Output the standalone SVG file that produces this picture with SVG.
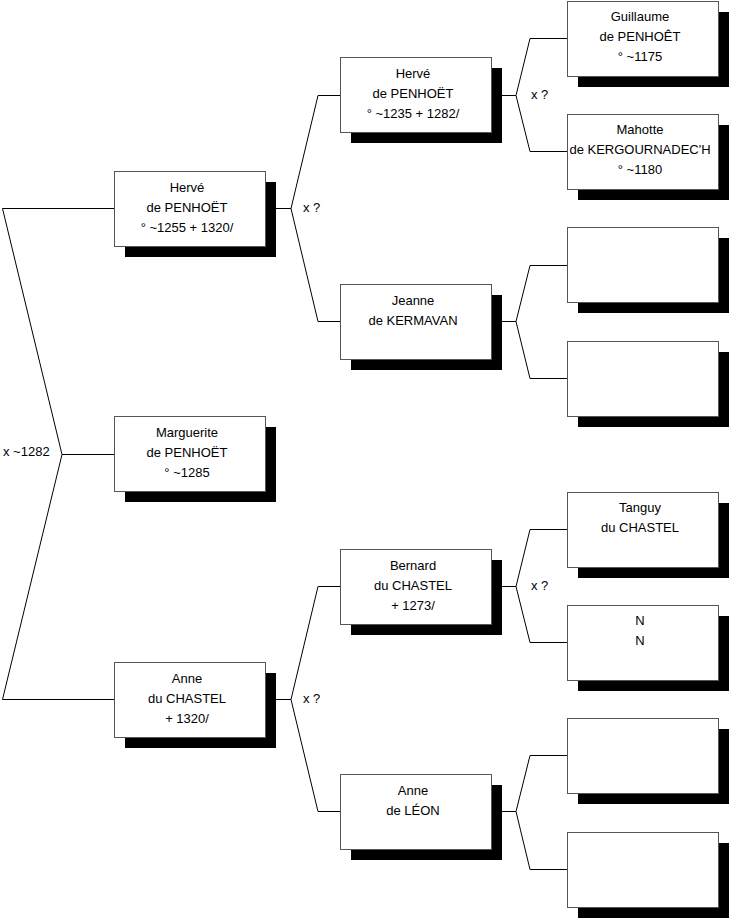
<svg xmlns="http://www.w3.org/2000/svg" width="731" height="920" viewBox="0 0 731 920">
<style>
.sh{fill:#000}
.bx{fill:#fff;stroke:#555;stroke-width:1}
.t{font-family:"Liberation Sans",Arial,sans-serif;font-size:13px;fill:#000;text-anchor:middle}
.l{font-family:"Liberation Sans",Arial,sans-serif;font-size:13px;fill:#000}
.c{fill:none;stroke:#000;stroke-width:1}
</style>
<rect width="731" height="920" fill="#fff"/>
<g id="connectors">
<polyline class="c" points="114,208.5 2.5,208.5 62,454.5 2.5,699.5 114,699.5"/>
<line class="c" x1="62" y1="454.5" x2="114" y2="454.5"/>
<polyline class="c" points="340,95.5 318,95.5 291,208.5 318,321.5 340,321.5"/>
<line class="c" x1="265" y1="208.5" x2="291" y2="208.5"/>
<polyline class="c" points="340,586.5 318,586.5 291,699.5 318,811.5 340,811.5"/>
<line class="c" x1="265" y1="699.5" x2="291" y2="699.5"/>
<polyline class="c" points="567,38.5 530,38.5 516,95.5 530,151.5 567,151.5"/>
<line class="c" x1="492" y1="95.5" x2="516" y2="95.5"/>
<polyline class="c" points="567,265.5 530,265.5 516,321.5 530,378.5 567,378.5"/>
<line class="c" x1="492" y1="321.5" x2="516" y2="321.5"/>
<polyline class="c" points="567,529.5 530,529.5 516,586.5 530,642.5 567,642.5"/>
<line class="c" x1="492" y1="586.5" x2="516" y2="586.5"/>
<polyline class="c" points="567,755.5 530,755.5 516,811.5 530,869.5 567,869.5"/>
<line class="c" x1="492" y1="811.5" x2="516" y2="811.5"/>
<text class="l" x="3" y="456">x ~1282</text>
<text class="l" x="303" y="212">x ?</text>
<text class="l" x="303" y="703">x ?</text>
<text class="l" x="531" y="99">x ?</text>
<text class="l" x="531" y="590">x ?</text>
</g>
<g id="herve1255">
<rect class="sh" x="125" y="182" width="151" height="75"/>
<rect class="bx" x="114.5" y="171.5" width="151" height="75"/>
<text class="t" x="187" y="192">Hervé</text>
<text class="t" x="187" y="212">de PENHOËT</text>
<text class="t" x="187" y="232">° ~1255 + 1320/</text>
</g>
<g id="marguerite">
<rect class="sh" x="125" y="427" width="151" height="75"/>
<rect class="bx" x="114.5" y="416.5" width="151" height="75"/>
<text class="t" x="187" y="437">Marguerite</text>
<text class="t" x="187" y="457">de PENHOËT</text>
<text class="t" x="187" y="477">° ~1285</text>
</g>
<g id="anneChastel">
<rect class="sh" x="125" y="673" width="151" height="75"/>
<rect class="bx" x="114.5" y="662.5" width="151" height="75"/>
<text class="t" x="187" y="683">Anne</text>
<text class="t" x="187" y="703">du CHASTEL</text>
<text class="t" x="187" y="723">+ 1320/</text>
</g>
<g id="herve1235">
<rect class="sh" x="351" y="68" width="151" height="75"/>
<rect class="bx" x="340.5" y="57.5" width="151" height="75"/>
<text class="t" x="413" y="78">Hervé</text>
<text class="t" x="413" y="98">de PENHOËT</text>
<text class="t" x="413" y="118">° ~1235 + 1282/</text>
</g>
<g id="jeanne">
<rect class="sh" x="351" y="295" width="151" height="75"/>
<rect class="bx" x="340.5" y="284.5" width="151" height="75"/>
<text class="t" x="413" y="305">Jeanne</text>
<text class="t" x="413" y="325">de KERMAVAN</text>
</g>
<g id="bernard">
<rect class="sh" x="351" y="560" width="151" height="75"/>
<rect class="bx" x="340.5" y="549.5" width="151" height="75"/>
<text class="t" x="413" y="570">Bernard</text>
<text class="t" x="413" y="590">du CHASTEL</text>
<text class="t" x="413" y="610">+ 1273/</text>
</g>
<g id="anneLeon">
<rect class="sh" x="351" y="785" width="151" height="75"/>
<rect class="bx" x="340.5" y="774.5" width="151" height="75"/>
<text class="t" x="413" y="795">Anne</text>
<text class="t" x="413" y="815">de LÉON</text>
</g>
<g id="guillaume">
<rect class="sh" x="578" y="12" width="151" height="75"/>
<rect class="bx" x="567.5" y="1.5" width="151" height="75"/>
<text class="t" x="640" y="21">Guillaume</text>
<text class="t" x="640" y="41">de PENHOÊT</text>
<text class="t" x="640" y="61">° ~1175</text>
</g>
<g id="mahotte">
<rect class="sh" x="578" y="125" width="151" height="75"/>
<rect class="bx" x="567.5" y="114.5" width="151" height="75"/>
<text class="t" x="640" y="134">Mahotte</text>
<text class="t" x="640" y="154">de KERGOURNADEC'H</text>
<text class="t" x="640" y="174">° ~1180</text>
</g>
<g id="empty1">
<rect class="sh" x="578" y="238" width="151" height="75"/>
<rect class="bx" x="567.5" y="227.5" width="151" height="75"/>
</g>
<g id="empty2">
<rect class="sh" x="578" y="352" width="151" height="75"/>
<rect class="bx" x="567.5" y="341.5" width="151" height="75"/>
</g>
<g id="tanguy">
<rect class="sh" x="578" y="503" width="151" height="75"/>
<rect class="bx" x="567.5" y="492.5" width="151" height="75"/>
<text class="t" x="640" y="512">Tanguy</text>
<text class="t" x="640" y="532">du CHASTEL</text>
</g>
<g id="nn">
<rect class="sh" x="578" y="616" width="151" height="75"/>
<rect class="bx" x="567.5" y="605.5" width="151" height="75"/>
<text class="t" x="640" y="625">N</text>
<text class="t" x="640" y="645">N</text>
</g>
<g id="empty3">
<rect class="sh" x="578" y="729" width="151" height="75"/>
<rect class="bx" x="567.5" y="718.5" width="151" height="75"/>
</g>
<g id="empty4">
<rect class="sh" x="578" y="843" width="151" height="75"/>
<rect class="bx" x="567.5" y="832.5" width="151" height="75"/>
</g>
</svg>
